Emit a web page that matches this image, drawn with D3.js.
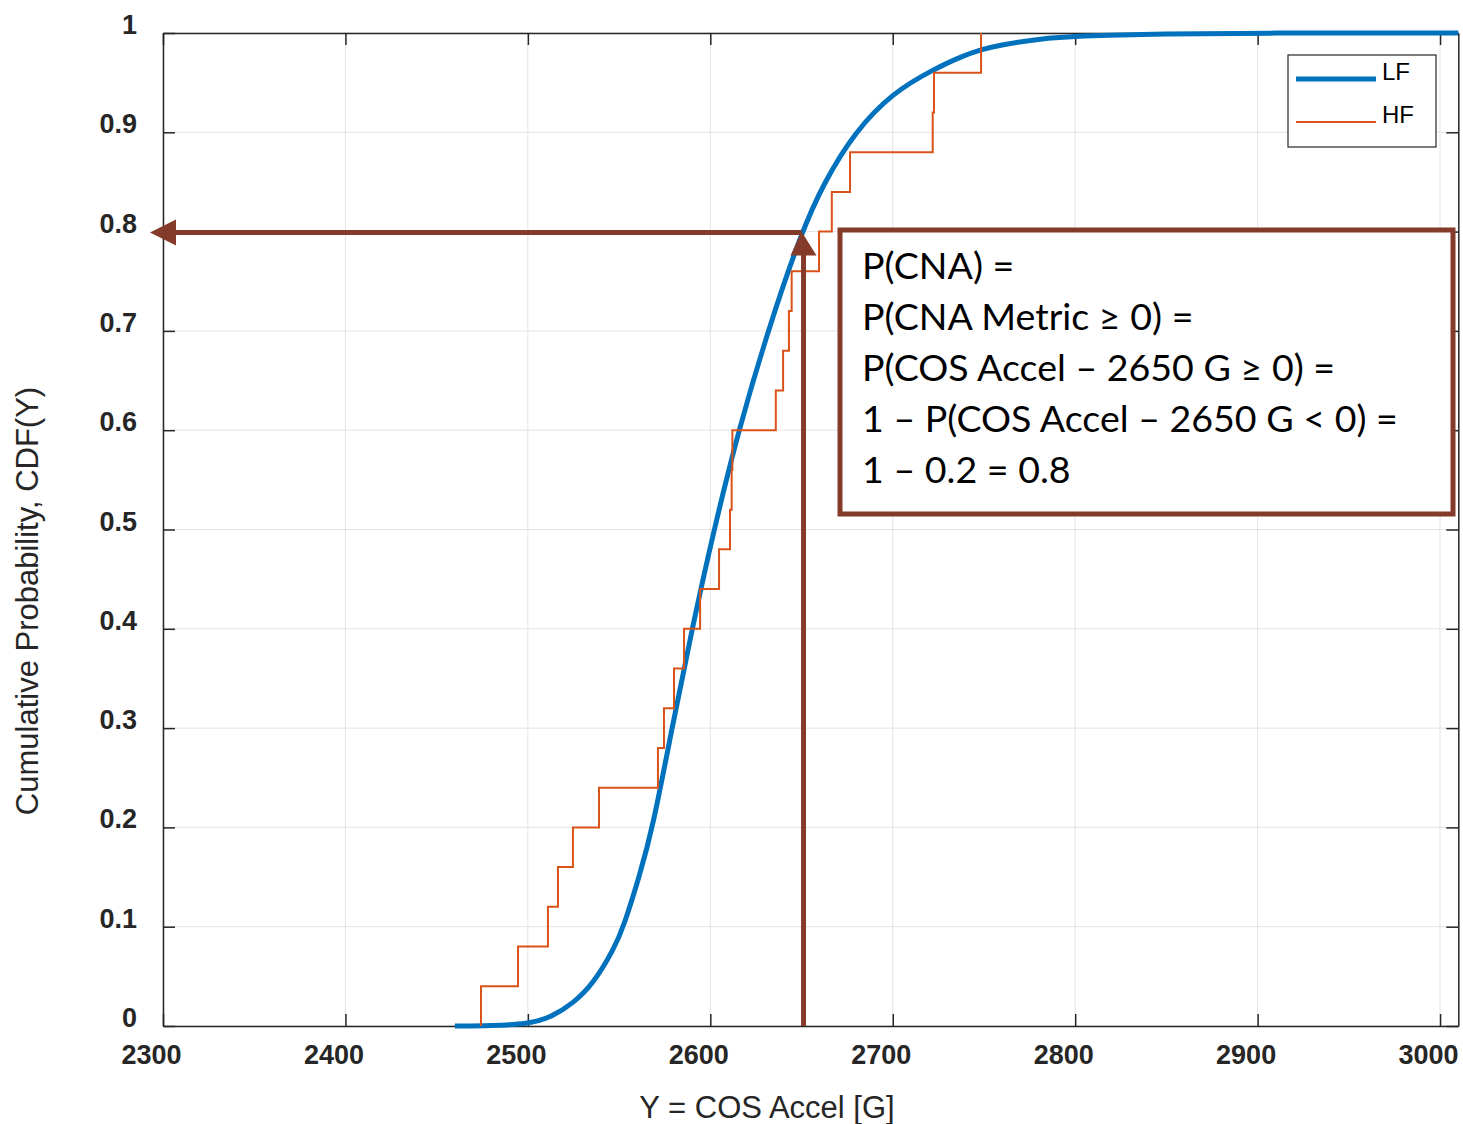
<!DOCTYPE html>
<html>
<head>
<meta charset="utf-8">
<script src="https://cdn.jsdelivr.net/npm/d3@7"></script>
<style>
  body { margin: 0; background: #fff; }
  svg { display: block; }
</style>
</head>
<body>
<div id="chart"></div>
<script>
// LF: smooth CDF
const lfY = [2460, 2480, 2500, 2512, 2525, 2536, 2547, 2552.5, 2561, 2568.5, 2579, 2590, 2602, 2615.5,
  2631.5, 2650, 2662.5, 2679, 2700, 2722, 2737, 2748, 2759, 2780, 2800, 2850, 2900, 3010]
const lfP = [0, 0.0004, 0.002, 0.008, 0.023, 0.043, 0.077, 0.1, 0.15, 0.2, 0.3, 0.4, 0.5, 0.6,
  0.7, 0.8, 0.85, 0.9, 0.94, 0.963, 0.976, 0.983, 0.988, 0.994, 0.997, 0.9993, 1, 1]

// HF: empirical CDF (25 samples)
const hfY = [2474.3, 2494.6, 2511, 2516.5, 2524.7, 2539, 2571.3, 2574.6, 2580.1, 2585.6, 2594.4, 2604.8, 2610.8,
  2611.7, 2612.1, 2635.9, 2639.9, 2643.1, 2644.6, 2659.6, 2666.6, 2676.6, 2721.9, 2722.6, 2748.4]
const hfP = [0.04, 0.08, 0.12, 0.16, 0.2, 0.24, 0.28, 0.32, 0.36, 0.4, 0.44, 0.48, 0.52,
  0.56, 0.6, 0.64, 0.68, 0.72, 0.76, 0.8, 0.84, 0.88, 0.92, 0.96, 1]

const xTicks = [2300, 2400, 2500, 2600, 2700, 2800, 2900, 3000]
const yTicks = [0, 0.1, 0.2, 0.3, 0.4, 0.5, 0.6, 0.7, 0.8, 0.9, 1]
const yTickLabels = ['0', '0.1', '0.2', '0.3', '0.4', '0.5', '0.6', '0.7', '0.8', '0.9', '1']

const threshold = 2650
const probAtThreshold = 0.8
const boxLines = [
  'P(CNA) =',
  'P(CNA Metric \u2265 0) =',
  'P(COS Accel \u2013 2650 G \u2265 0) =',
  '1 \u2013 P(COS Accel \u2013 2650 G < 0) =',
  '1 \u2013 0.2 = 0.8'
]

const W = 1463
const H = 1124
const pLeft = 163, pRight = 1458.3, pTop = 33, pBottom = 1026
const axisColor = '#262626'
const brown = '#843B2A'

const x = d3.scaleLinear().domain([2300, 3010]).range([pLeft, pRight])
const y = d3.scaleLinear().domain([0, 1]).range([pBottom, pTop])

const svg = d3.select('#chart').append('svg')
  .attr('width', W)
  .attr('height', H)

// grid
svg.append('g').selectAll('line')
  .data(xTicks)
  .enter().append('line')
  .attr('x1', d => x(d)).attr('x2', d => x(d))
  .attr('y1', pTop).attr('y2', pBottom)
  .attr('stroke', '#e3e3e3').attr('stroke-width', 1)
svg.append('g').selectAll('line')
  .data(yTicks)
  .enter().append('line')
  .attr('x1', pLeft).attr('x2', pRight)
  .attr('y1', d => y(d)).attr('y2', d => y(d))
  .attr('stroke', '#e3e3e3').attr('stroke-width', 1)

// axes: box with inner ticks on all sides
const xAxisB = d3.axisBottom(x).tickValues(xTicks).tickSizeInner(-12).tickSizeOuter(0).tickFormat('')
const xAxisT = d3.axisTop(x).tickValues(xTicks).tickSizeInner(-12).tickSizeOuter(0).tickFormat('')
const yAxisL = d3.axisLeft(y).tickValues(yTicks).tickSizeInner(-12).tickSizeOuter(0).tickFormat('')
const yAxisR = d3.axisRight(y).tickValues(yTicks).tickSizeInner(-12).tickSizeOuter(0).tickFormat('')

svg.append('g').attr('transform', 'translate(0,' + pBottom + ')').call(xAxisB)
svg.append('g').attr('transform', 'translate(0,' + pTop + ')').call(xAxisT)
svg.append('g').attr('transform', 'translate(' + pLeft + ',0)').call(yAxisL)
svg.append('g').attr('transform', 'translate(' + pRight + ',0)').call(yAxisR)
svg.selectAll('.domain, .tick line').attr('stroke', axisColor).attr('stroke-width', 1.5)

// tick labels (offset as in the picture)
svg.append('g').selectAll('text')
  .data(xTicks)
  .enter().append('text')
  .attr('x', d => x(d) - 11.5)
  .attr('y', 1064)
  .attr('text-anchor', 'middle')
  .attr('font-family', 'Liberation Sans, Arial, sans-serif')
  .attr('font-weight', 'bold')
  .attr('font-size', 27)
  .attr('fill', axisColor)
  .text(d => d)
svg.append('g').selectAll('text')
  .data(yTicks)
  .enter().append('text')
  .attr('x', 137)
  .attr('y', d => y(d) + 1)
  .attr('text-anchor', 'end')
  .attr('font-family', 'Liberation Sans, Arial, sans-serif')
  .attr('font-weight', 'bold')
  .attr('font-size', 27)
  .attr('fill', axisColor)
  .text((d, i) => yTickLabels[i])

// axis titles
svg.append('text')
  .attr('x', 767).attr('y', 1118)
  .attr('text-anchor', 'middle')
  .attr('font-family', 'Liberation Sans, Arial, sans-serif')
  .attr('font-size', 31)
  .attr('fill', axisColor)
  .text('Y = COS Accel [G]')
svg.append('text')
  .attr('transform', 'translate(38,601) rotate(-90)')
  .attr('text-anchor', 'middle')
  .attr('font-family', 'Liberation Sans, Arial, sans-serif')
  .attr('font-size', 31)
  .attr('fill', axisColor)
  .text('Cumulative Probability, CDF(Y)')

// LF curve
const lfData = lfY.map((d, i) => [d, lfP[i]])
const lfLine = d3.line()
  .x(d => x(d[0]))
  .y(d => y(d[1]))
  .curve(d3.curveBasis)
svg.append('path')
  .datum(lfData)
  .attr('d', lfLine)
  .attr('fill', 'none')
  .attr('stroke', '#0072BD')
  .attr('stroke-width', 5)

// HF stairs
const hfData = [[hfY[0], 0]].concat(hfY.map((d, i) => [d, hfP[i]]))
const hfLine = d3.line()
  .x(d => x(d[0]))
  .y(d => y(d[1]))
  .curve(d3.curveStepAfter)
svg.append('path')
  .datum(hfData)
  .attr('d', hfLine)
  .attr('fill', 'none')
  .attr('stroke', '#D95319')
  .attr('stroke-width', 2)

// legend
const lg = svg.append('g')
lg.append('rect')
  .attr('x', 1288).attr('y', 55).attr('width', 148).attr('height', 92)
  .attr('fill', '#fff').attr('stroke', axisColor).attr('stroke-width', 1.2)
const legendItems = [
  { name: 'LF', color: '#0072BD', width: 5, y: 79 },
  { name: 'HF', color: '#D95319', width: 2, y: 122 }
]
legendItems.forEach(it => {
  lg.append('line')
    .attr('x1', 1296).attr('x2', 1376).attr('y1', it.y).attr('y2', it.y)
    .attr('stroke', it.color).attr('stroke-width', it.width)
  lg.append('text')
    .attr('x', 1382).attr('y', it.y + 1)
    .attr('font-family', 'Liberation Sans, Arial, sans-serif')
    .attr('font-size', 24)
    .attr('fill', '#000')
    .text(it.name)
})

// arrows at the threshold
const ax = x(threshold)
const ay = y(probAtThreshold)
svg.append('line')
  .attr('x1', ax).attr('x2', pLeft - 13 + 24)
  .attr('y1', ay + 1).attr('y2', ay + 1)
  .attr('stroke', brown).attr('stroke-width', 5)
svg.append('path')
  .attr('d', `M${pLeft - 13},${ay + 1} L${pLeft + 13},${ay - 12} L${pLeft + 13},${ay + 14} Z`)
  .attr('fill', brown)
svg.append('line')
  .attr('x1', ax + 2).attr('x2', ax + 2)
  .attr('y1', pBottom).attr('y2', ay + 22)
  .attr('stroke', brown).attr('stroke-width', 5)
svg.append('path')
  .attr('d', `M${ax},${ay} L${ax - 11},${ay + 24} L${ax + 15},${ay + 24} Z`)
  .attr('fill', brown)

// text box
svg.append('rect')
  .attr('x', 840).attr('y', 230).attr('width', 613).attr('height', 284)
  .attr('fill', '#fff').attr('stroke', brown).attr('stroke-width', 5)
const tb = svg.append('g')
const tLines = tb.selectAll('text')
  .data(boxLines)
  .enter().append('text')
  .attr('x', 862)
  .attr('y', (d, i) => 279 + i * 51)
  .attr('font-family', 'Lato, Carlito, Calibri, sans-serif')
  .attr('font-size', 36)
  .attr('fill', '#000')
  .text(d => d)
// fit the longest line to its width in the picture
const longest = tLines.nodes()[3].getComputedTextLength()
const fs = Math.max(30, Math.min(42, 36 * 536 / longest))
tLines.attr('font-size', fs)
</script>
</body>
</html>
